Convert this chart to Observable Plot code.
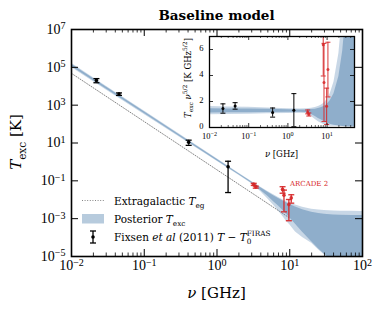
<!DOCTYPE html>
<html><head><meta charset="utf-8">
<script src="https://cdn.jsdelivr.net/npm/d3@7"></script>
<script src="https://cdn.jsdelivr.net/npm/@observablehq/plot@0.6"></script>
<style>
body{margin:0;background:#fff;}
#wrap{position:relative;width:382px;height:311px;overflow:hidden;background:#fff;}
#wrap svg{position:absolute;}
</style></head><body><div id="wrap"></div><script>
// ---------------- data ----------------
const fixsenNu = [0.022, 0.045, 0.408, 1.42];
const fixsenT = [20330, 3864, 10.8, 0.554];
const fixsenErr = [5000, 580, 3.3, 0.53];

const arcadeNu = [3.20, 3.41, 7.97, 8.33, 9.72, 10.49];
const arcadeT = [0.0655, 0.0466, 0.0355, 0.0173, 0.00553, 0.0125];
const arcadeErr = [0.0082, 0.0056, 0.0134, 0.0150, 0.00475, 0.0059];

const bandNu  = [0.01, 0.03, 0.1, 0.3, 1, 2, 3, 4, 5, 6, 7, 8, 9, 10, 12, 15, 20, 25, 30, 40, 50, 70, 100];
const outerHi = [1.62e5, 1.013e4, 490, 30.4, 1.45, 0.251, 0.0922, 0.0462, 0.0274, 0.0183, 0.0132, 0.0101, 0.00816, 0.00683, 0.00521, 0.00401, 0.00318, 0.00285, 0.00268, 0.00254, 0.00248, 0.00243, 0.0024];
const innerHi = [1.45e5, 9173, 449, 28.4, 1.37, 0.2386, 0.0868, 0.0430, 0.0252, 0.0165, 0.0117, 0.0088, 0.00692, 0.00566, 0.00412, 0.00298, 0.00219, 0.00188, 0.00172, 0.00158, 0.00153, 0.00148, 0.00146];
const innerLo = [1.12e5, 7248, 360.5, 23.3, 1.17, 0.2086, 0.0738, 0.031, 0.0152, 0.00794, 0.00463, 0.00276, 0.00173, 0.00111, 5.0e-4, 1.9e-4, 6e-5, 2.5e-5, 1.3e-5, 5e-6, 2e-6, 5e-7, 1e-7];
const outerLo = [9.8e4, 6414, 322.6, 21.3, 1.08, 0.1944, 0.0693, 0.0266, 0.0111, 0.0051, 0.00255, 0.00133, 7.4e-4, 4.7e-4, 2.0e-4, 1.0e-4, 5e-5, 2.2e-5, 1.2e-5, 4.5e-6, 1.8e-6, 4e-7, 9e-8];

const egNu = [0.01, 10];
const egT = [4.8e4, 1.07e-3];

const xMajor = [0.01, 0.1, 1, 10, 100];
const yMajor = [1e-5, 1e-3, 1e-1, 1e1, 1e3, 1e5, 1e7];
const insetXMajor = [0.01, 0.1, 1, 10];
const insetYMajor = [0, 2, 4, 6];

// ---------------- helpers ----------------
const blue = "#4a7cab";
const red = "#d62728";
const minorOf = (decades, maxV) => decades.flatMap(d => d3.range(2, 10).map(m => m * d)).filter(v => v <= maxV);
const xMinor = minorOf([0.01, 0.1, 1, 10], 100);
const insetXMinor = minorOf([0.01, 0.1, 1, 10], 50);

const capSym = {draw(ctx, size) { const r = Math.sqrt(size / Math.PI); ctx.moveTo(-r, 0); ctx.lineTo(r, 0); }};
const pw = (nu) => Math.pow(nu, 2.5);

const band = bandNu.map((nu, i) => ({nu, oHi: outerHi[i], iHi: innerHi[i], iLo: innerLo[i], oLo: outerLo[i]}));
const bandInset = band.map(d => ({nu: d.nu, oHi: d.oHi * pw(d.nu), iHi: d.iHi * pw(d.nu), iLo: d.iLo * pw(d.nu), oLo: d.oLo * pw(d.nu)}));
const fixsen = fixsenNu.map((nu, i) => ({x: nu, y: fixsenT[i], lo: fixsenT[i] - fixsenErr[i], hi: fixsenT[i] + fixsenErr[i]}));
const arcade = arcadeNu.map((nu, i) => ({x: nu, y: arcadeT[i], lo: arcadeT[i] - arcadeErr[i], hi: arcadeT[i] + arcadeErr[i]}));
const scaleRows = rows => rows.map(d => ({x: d.x, y: d.y * pw(d.x), lo: d.lo * pw(d.x), hi: d.hi * pw(d.x)}));
const eg = egNu.map((nu, i) => ({nu, T: egT[i]}));

function errorMarks(rows, color, r, sw, cap, opacity = 1) {
  const o = {x: "x", clip: true, strokeOpacity: opacity};
  return [
    Plot.ruleX(rows, {...o, y1: "lo", y2: "hi", stroke: color, strokeWidth: sw}),
    Plot.dot(rows, {...o, y: "lo", symbol: capSym, r: cap, stroke: color, strokeWidth: sw, fill: "none"}),
    Plot.dot(rows, {...o, y: "hi", symbol: capSym, r: cap, stroke: color, strokeWidth: sw, fill: "none"}),
    Plot.dot(rows, {x: "x", y: "y", clip: true, r, fill: color, fillOpacity: opacity, stroke: "none"})
  ];
}
const fmtPow = d => "10^" + Math.round(Math.log10(d));
const oOp = 0.3, iOp = 0.45;

// ---------------- main plot ----------------
const W = 382, H = 311, mL = 71, mR = 20, mT = 29, mB = 55;
const FW = W - mL - mR, FH = H - mT - mB;
const maj = 7, mnr = 3.5;

const main = Plot.plot({
  width: W, height: H, marginLeft: mL, marginRight: mR, marginTop: mT, marginBottom: mB,
  x: {type: "log", domain: [0.01, 100], label: null},
  y: {type: "log", domain: [1e-5, 1e7], label: null},
  style: {fontFamily: "Liberation Serif", fontSize: "14px", background: "transparent", color: "black"},
  marks: [
    Plot.line(eg, {x: "nu", y: "T", stroke: "#777", strokeWidth: 0.9, strokeDasharray: "1,1.6", clip: true}),
    Plot.areaY(band, {x: "nu", y1: "oLo", y2: "oHi", fill: blue, fillOpacity: oOp, clip: true}),
    Plot.areaY(band, {x: "nu", y1: "iLo", y2: "iHi", fill: blue, fillOpacity: iOp, clip: true}),
    ...errorMarks(fixsen, "black", 1.8, 1.3, 3),
    ...errorMarks(arcade, red, 1.8, 1.4, 3, 0.9),
    Plot.tickX(xMajor, {x: d => d, insetTop: FH - maj, strokeWidth: 1}),
    Plot.tickX(xMajor, {x: d => d, insetBottom: FH - maj, strokeWidth: 1}),
    Plot.tickX(xMinor, {x: d => d, insetTop: FH - mnr, strokeWidth: 0.8}),
    Plot.tickX(xMinor, {x: d => d, insetBottom: FH - mnr, strokeWidth: 0.8}),
    Plot.tickY(yMajor, {y: d => d, insetRight: FW - maj, strokeWidth: 1}),
    Plot.tickY(yMajor, {y: d => d, insetLeft: FW - maj, strokeWidth: 1}),
    Plot.axisX(xMajor, {tickSize: 0, tickPadding: 4, tickFormat: fmtPow, label: null}),
    Plot.axisY(yMajor, {tickSize: 0, tickPadding: 6, tickFormat: fmtPow, label: null}),
    Plot.frame({stroke: "black", strokeWidth: 1.6})
  ]
});

// ---------------- inset plot ----------------
const iX = 175, iY = 30, iW = 183, iH = 127, imL = 34, imR = 4, imT = 6, imB = 30;
const iFW = iW - imL - imR, iFH = iH - imT - imB;
const inset = Plot.plot({
  width: iW, height: iH, marginLeft: imL, marginRight: imR, marginTop: imT, marginBottom: imB,
  x: {type: "log", domain: [0.01, 50], label: null},
  y: {domain: [0, 7], label: null},
  style: {fontFamily: "Liberation Serif", fontSize: "8.5px", background: "transparent", color: "black", overflow: "visible"},
  marks: [
    Plot.frame({fill: "white", stroke: "none"}),
    Plot.areaY(bandInset, {x: "nu", y1: "oLo", y2: "oHi", fill: blue, fillOpacity: oOp, clip: true}),
    Plot.areaY(bandInset, {x: "nu", y1: "iLo", y2: "iHi", fill: blue, fillOpacity: iOp, clip: true}),
    ...errorMarks(scaleRows(fixsen), "black", 1.5, 1, 2.5),
    ...errorMarks(scaleRows(arcade), red, 1.5, 1.1, 2.5, 0.85),
    Plot.tickX(insetXMajor, {x: d => d, insetTop: iFH - 4, strokeWidth: 0.8}),
    Plot.tickX(insetXMajor, {x: d => d, insetBottom: iFH - 4, strokeWidth: 0.8}),
    Plot.tickX(insetXMinor, {x: d => d, insetTop: iFH - 2, strokeWidth: 0.6}),
    Plot.tickX(insetXMinor, {x: d => d, insetBottom: iFH - 2, strokeWidth: 0.6}),
    Plot.tickY(insetYMajor, {y: d => d, insetRight: iFW - 4, strokeWidth: 0.8}),
    Plot.tickY(insetYMajor, {y: d => d, insetLeft: iFW - 4, strokeWidth: 0.8}),
    Plot.axisX(insetXMajor, {tickSize: 0, tickPadding: 5, tickFormat: fmtPow, label: null}),
    Plot.axisY(insetYMajor, {tickSize: 0, tickPadding: 6, dy: -1, label: null}),
    Plot.frame({stroke: "black", strokeWidth: 1.3})
  ]
});

// superscript tick labels
function supify(svg) {
  d3.select(svg).selectAll("text").each(function() {
    const m = /^10\^(-?\d+)$/.exec(this.textContent);
    if (!m) return;
    const t = d3.select(this);
    t.text("10");
    t.append("tspan").attr("dy", "-0.45em").attr("font-size", "0.72em").text(m[1].replace("-", "\u2212"));
  });
}
supify(main); supify(inset);

// rich text helper
function rich(sel, parts, base) {
  let shift = 0;
  for (const p of parts) {
    const ts = sel.append("tspan").text(p.t);
    const target = p.sub ? base * 0.3 : p.sup ? -base * 0.45 : 0;
    if (target !== shift) { ts.attr("dy", target - shift); shift = target; }
    if (p.i) ts.attr("font-style", "italic");
    if (p.sub || p.sup) ts.attr("font-size", base * 0.7);
    if (p.dx) ts.attr("dx", p.dx);
  }
}

const s = d3.select(main);
const serif = "DejaVu Serif";
// title
s.append("text").attr("x", 216.5).attr("y", 20).attr("text-anchor", "middle")
  .attr("font-family", serif).attr("font-weight", "bold").attr("font-size", 13.5).text("Baseline model");
// axis labels
rich(s.append("text").attr("transform", "translate(21,142) rotate(-90)").attr("text-anchor", "middle")
  .attr("font-family", serif).attr("font-size", 15),
  [{t: "T", i: true}, {t: "exc", sub: true}, {t: " [K]"}], 15);
rich(s.append("text").attr("x", 216.5).attr("y", 298).attr("text-anchor", "middle")
  .attr("font-family", serif).attr("font-size", 15),
  [{t: "\u03bd", i: true}, {t: " [GHz]"}], 15);
// inset axis labels
rich(s.append("text").attr("transform", "translate(190.5,78) rotate(-90)").attr("text-anchor", "middle")
  .attr("font-family", serif).attr("font-size", 8.5),
  [{t: "T", i: true}, {t: "exc", sub: true}, {t: " \u03bd", i: true}, {t: "5/2", sup: true}, {t: " [K GHz"}, {t: "5/2", sup: true}, {t: "]"}], 8.5);
rich(s.append("text").attr("x", 281.5).attr("y", 157).attr("text-anchor", "middle")
  .attr("font-family", serif).attr("font-size", 8.5),
  [{t: "\u03bd", i: true}, {t: " [GHz]"}], 8.5);
// ARCADE label
s.append("text").attr("x", 290).attr("y", 186).attr("text-anchor", "start").attr("font-family", serif).attr("font-size", 7)
  .attr("fill", red).text("ARCADE 2");
// legend
const lg = s.append("g").attr("font-family", serif).attr("font-size", 10.5).attr("text-anchor", "start");
lg.append("line").attr("x1", 82).attr("x2", 104).attr("y1", 200.5).attr("y2", 200.5)
  .attr("stroke", "#777").attr("stroke-width", 0.9).attr("stroke-dasharray", "1,1.6");
lg.append("rect").attr("x", 82).attr("y", 214).attr("width", 22).attr("height", 9.5)
  .attr("fill", blue).attr("fill-opacity", 0.4);
lg.append("line").attr("x1", 93).attr("x2", 93).attr("y1", 231).attr("y2", 243).attr("stroke", "black").attr("stroke-width", 1.3);
lg.append("line").attr("x1", 90).attr("x2", 96).attr("y1", 231).attr("y2", 231).attr("stroke", "black").attr("stroke-width", 1.3);
lg.append("line").attr("x1", 90).attr("x2", 96).attr("y1", 243).attr("y2", 243).attr("stroke", "black").attr("stroke-width", 1.3);
lg.append("circle").attr("cx", 93).attr("cy", 237).attr("r", 1.8).attr("fill", "black");
rich(lg.append("text").attr("x", 114).attr("y", 204.5), [{t: "Extragalactic "}, {t: "T", i: true}, {t: "eg", sub: true}], 10.5);
rich(lg.append("text").attr("x", 114).attr("y", 223), [{t: "Posterior "}, {t: "T", i: true}, {t: "exc", sub: true}], 10.5);
rich(lg.append("text").attr("x", 114).attr("y", 241), [{t: "Fixsen "}, {t: "et al", i: true}, {t: " (2011) "}, {t: "T", i: true}, {t: " \u2212 "}, {t: "T", i: true}, {t: "0", sub: true}, {t: "FIRAS", sup: true, dx: -4.7}], 10.5);

const wrap = document.getElementById("wrap");
main.style.left = "0px"; main.style.top = "0px";
inset.style.left = iX + "px"; inset.style.top = iY + "px";
wrap.appendChild(main);
wrap.appendChild(inset);
</script></body></html>
